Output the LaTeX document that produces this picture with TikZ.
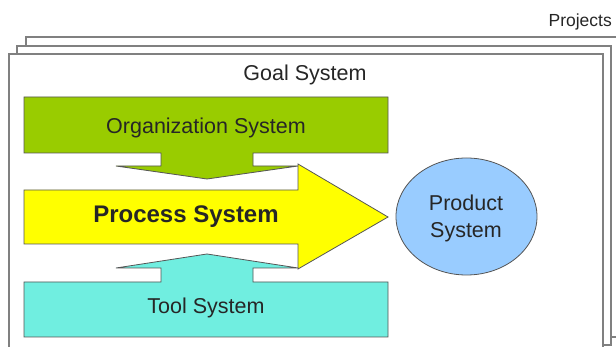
\documentclass[tikz,border=0pt]{standalone}
\usepackage{fontspec}
\setmainfont{Liberation Sans}

\definecolor{orggreen}{RGB}{153,204,0}
\definecolor{procyellow}{RGB}{255,255,0}
\definecolor{toolcyan}{RGB}{112,238,224}
\definecolor{prodblue}{RGB}{153,204,255}
\definecolor{sheetgray}{RGB}{128,128,128}
\definecolor{edgegray}{RGB}{85,85,85}

\tikzset{
  sheet/.style={draw=sheetgray,line width=1.3pt,fill=white},
  part/.style={draw=edgegray,line width=0.8pt,line join=miter},
  lbl/.style={inner sep=0pt,text=black!85,font=\fontsize{21.5}{25}\selectfont}
}

\begin{document}
\begin{tikzpicture}[x=1pt,y=-1pt]

\useasboundingbox (0,0) rectangle (616,347);
\clip (0,0)--(616,0)--(616,347)--(0,347)--cycle;

% three stacked sheets, back to front
\draw[sheet] (26,37)--(620,37)--(620,337)--(26,337)--cycle;
\draw[sheet] (17,46)--(611,46)--(611,345)--(17,345)--cycle;
\draw[sheet] (9,54)--(603,54)--(603,356)--(9,356)--cycle;

% organization block, pointing down
\draw[part,fill=orggreen] (24,97)--(388,97)--(388,153)--(253,153)--(253,166)
  --(298,166)--(207,179)--(116,166)--(161,166)--(161,153)--(24,153)--cycle;

% tool block, pointing up
\draw[part,fill=toolcyan] (24,337)--(388,337)--(388,282)--(253,282)--(253,268)
  --(298,268)--(207,254)--(116,268)--(161,268)--(161,282)--(24,282)--cycle;

% process arrow on top of both
\draw[part,fill=procyellow] (24,190)--(298,190)--(298,164)--(388,217)--(298,269)
  --(298,244)--(24,244)--cycle;

% product
\draw[part,fill=prodblue] (466.5,216.5) ellipse [x radius=70.5,y radius=58.5];

\node[lbl,font=\fontsize{17.5}{20}\selectfont,anchor=east] (proj) at (612,22) {Projects};
\node[lbl] (goal) at (305,75) {Goal System};
\node[lbl] (org) at (206,128) {Organization System};
\node[lbl,font=\fontsize{24}{28}\selectfont\bfseries] (proc) at (186,217) {Process System};
\node[lbl] (tool) at (206,308) {Tool System};
\node[lbl,align=center,font=\fontsize{21.5}{27}\selectfont] (prod) at (466,218) {Product\\System};

\end{tikzpicture}
\end{document}
